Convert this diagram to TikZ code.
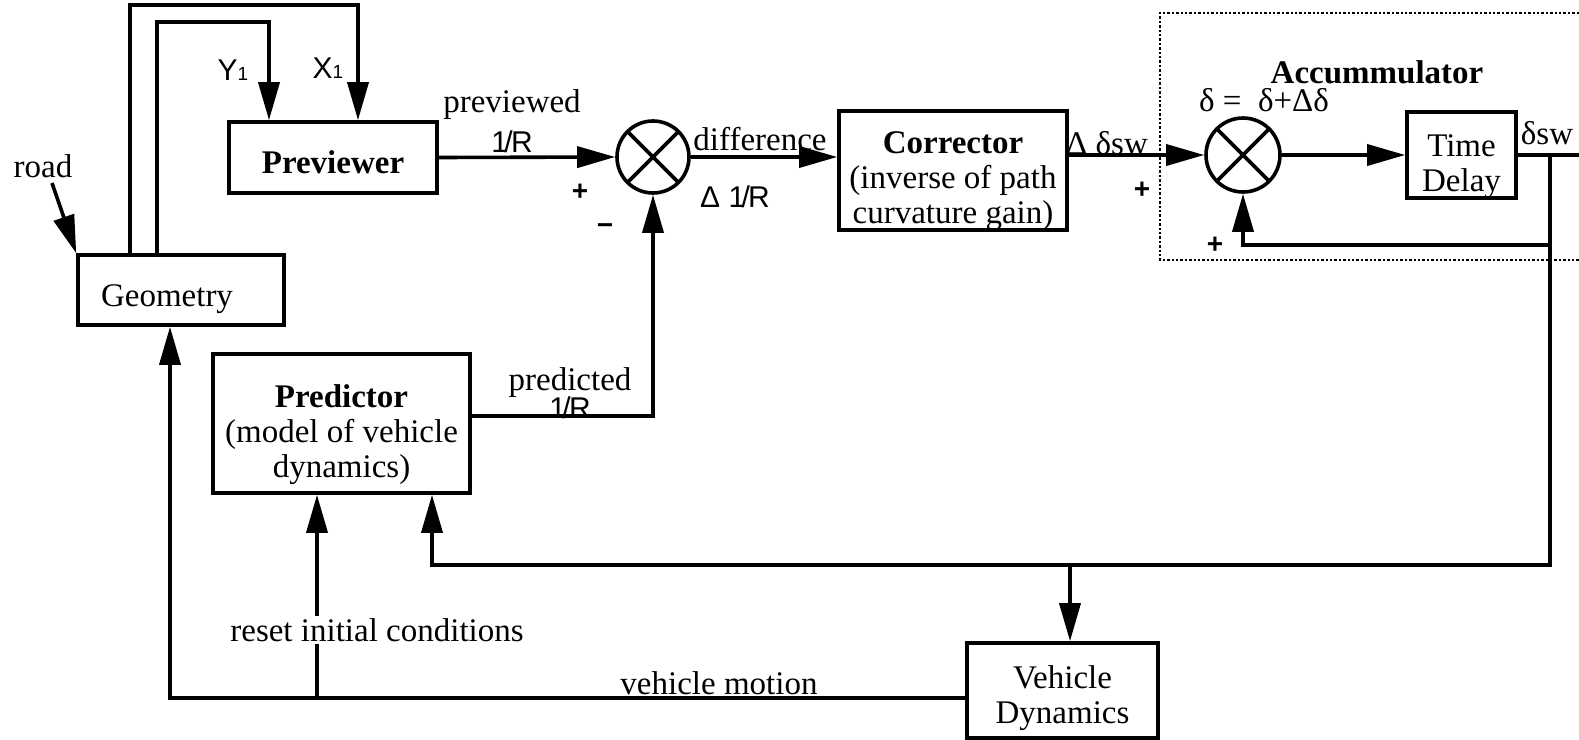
\documentclass[tikz,border=0pt]{standalone}
\usepackage{fontspec}
\setmainfont{Liberation Serif}
\newfontfamily\helv{Liberation Sans}
\usetikzlibrary{arrows.meta}
\newcommand{\invR}{{\helv\fontsize{15}{15}\selectfont 1\kern-.12em/\kern-.06em R}}
\begin{document}
\begin{tikzpicture}[>={Triangle[length=19pt,width=10.5pt]},x=0.5pt,y=-0.5pt,
	every node/.style={font=\fontsize{16.5}{17.5}\selectfont},
	blk/.style={draw,line width=1.8pt,inner sep=0pt,align=center},
	txt/.style={align=center,inner sep=0pt},
	sumx/.style={draw,circle,line width=1.8pt,inner sep=0pt,
		path picture={\draw[line width=1.8pt] (path picture bounding box.north west) -- (path picture bounding box.south east)
			(path picture bounding box.north east) -- (path picture bounding box.south west);}},
	ln/.style={line width=1.8pt},
	sgn/.style={font=\helv\bfseries\fontsize{14}{14}\selectfont}]
	\useasboundingbox (0,0) rectangle (1579,739);
	% blocks
	\node[blk,minimum width=103pt,minimum height=35pt,label={[txt,xshift=-7pt,yshift=-4.5pt]center:Geometry}] (geo) at (181,290) {};
	\node[blk,minimum width=104pt,minimum height=35.5pt,label={[txt,yshift=-2.5pt]center:\bfseries Previewer}] (prev) at (333,157.5) {};
	\node[sumx,minimum size=36pt] (sum1) at (653,157) {};
	\node[blk,minimum width=114pt,minimum height=59.5pt,label={[txt,yshift=-5.5pt]center:{\textbf{Corrector}\\(inverse of path\\curvature gain)}}] (corr) at (953,170.5) {};
	\node[sumx,minimum size=37pt] (sum2) at (1243,155) {};
	\node[blk,minimum width=54.5pt,minimum height=43pt,label={[txt,yshift=-5.75pt]center:{Time\\Delay}}] (td) at (1461.5,155) {};
	\node[blk,minimum width=128.5pt,minimum height=69.5pt,label={[txt,yshift=-5.5pt]center:{\textbf{Predictor}\\(model of vehicle\\dynamics)}}] (pred) at (341.5,423.5) {};
	\node[blk,minimum width=95.5pt,minimum height=47.5pt,label={[txt,yshift=-3.75pt]center:{Vehicle\\Dynamics}}] (vd) at (1062.5,690.5) {};
	\draw[densely dotted,line width=1.2pt] (1579,13) -| (1160,260) -- (1579,260);
	% free ends and branch points
	\coordinate (roadin) at (52,183);
	\coordinate (out) at (1579,155);
	\coordinate (br) at (1550,155);
	\coordinate (lowR) at (1550,565);
	\coordinate (vdin) at (1070,565);
	\coordinate (rst) at (317,698);
	% connectors
	\draw[ln,->] (roadin) -- (geo.north west);
	\draw[ln,->] ([xshift=27pt]geo.north west) -- ++(0,-248) -| ([xshift=12.5pt]prev.north);
	\draw[ln,->] ([xshift=40.5pt]geo.north west) -- ++(0,-231) -| ([xshift=-32pt]prev.north);
	\draw[ln,->] (prev.east) -- (sum1.west);
	\draw[ln,->] (sum1.east) -- (corr.west |- sum1.east);
	\draw[ln,->] (corr.east |- sum2.west) -- (sum2.west);
	\draw[ln,->] (sum2.east) -- (td.west |- sum2.east);
	\draw[ln] (td.east |- sum2.east) -- (out);
	\draw[ln,->] (br) |- ([yshift=-25.5pt]sum2.south) -- (sum2.south);
	\draw[ln,->] (br) -- (lowR) -| ([xshift=45.25pt]pred.south);
	\draw[ln,->] (vdin) -- (vdin |- vd.north);
	\draw[ln,->] ([yshift=-3.75pt]vd.west) -| ([xshift=-5.5pt]geo.south);
	\draw[ln,->] (rst) -- (rst |- pred.south);
	\draw[ln,->] ([yshift=3.75pt]pred.east) -| (sum1.south);
	% labels
	\node (lroad) at (43,166) {road};
	\node (ly) at (233,70) {\helv\fontsize{15}{15}\selectfont Y\fontsize{9.5}{9.5}\selectfont 1};
	\node (lx) at (328,68) {\helv\fontsize{15}{15}\selectfont X\fontsize{9.5}{9.5}\selectfont 1};
	\node (lprev) at (512,105) {previewed};
	\node (lprevr) at (512,142) {\invR};
	\node[sgn] (p1) at (580,192) {+};
	\node[sgn] (m1) at (605,229) {\symbol{"2212}};
	\node (ldiff) at (760,139) {difference};
	\node (ldr) at (735,197) {{\helv\fontsize{15}{15}\selectfont Δ} \invR};
	\node (ldsw) at (1107,143) {Δ δsw};
	\node[sgn] (p2) at (1142,190) {+};
	\node (lacc) at (1377,72) {\bfseries Accummulator};
	\node (leq) at (1264,100) {δ =\ \ δ+Δδ};
	\node (lsw) at (1547,133) {δsw};
	\node[sgn] (p3) at (1215,245) {+};
	\node (lpred) at (570,383) {predicted};
	\node (lpredr) at (570,408) {\invR};
	\node[fill=white,inner sep=1pt] (lrst) at (377,630) {reset initial conditions};
	\node (lvm) at (719,683) {vehicle motion};
\end{tikzpicture}
\end{document}
